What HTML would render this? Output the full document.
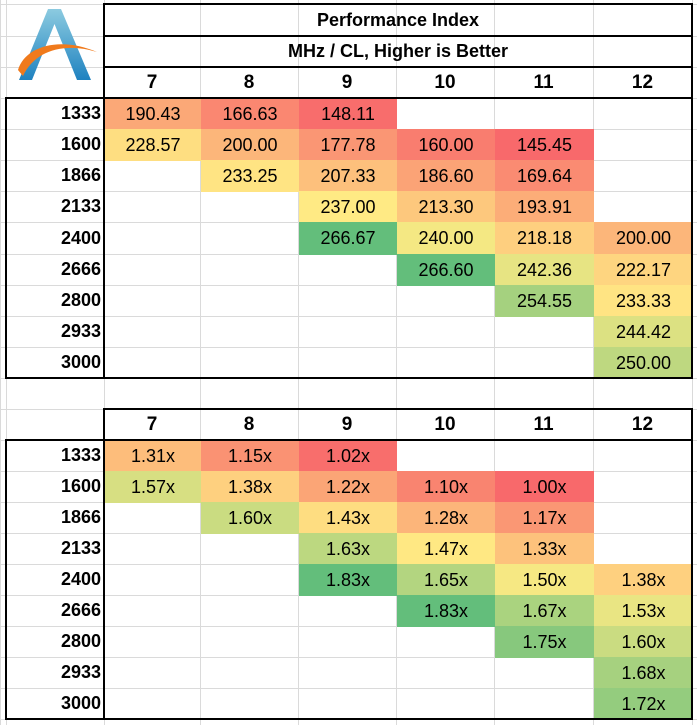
<!DOCTYPE html>
<html><head><meta charset="utf-8"><style>
body{margin:0;background:#fff;width:697px;height:725px;position:relative;overflow:hidden;font-family:"Liberation Sans",sans-serif;}
.c{position:absolute;box-sizing:border-box;display:flex;align-items:center;justify-content:center;font-size:18px;color:#000;}
.l{position:absolute;background:#000;}
.g{position:absolute;background:#dadada;}
</style></head><body>
<div id="root"></div>
<svg style="position:absolute;left:15px;top:6px" width="85" height="76" viewBox="0 0 85 76">
<defs><linearGradient id="bg" x1="0" y1="0" x2="0" y2="1"><stop offset="0" stop-color="#8ccbe0"/><stop offset="1" stop-color="#1f82c0"/></linearGradient></defs>
<path d="M33 3 L46 3 L76 74 L62 74 L39.5 18 L17 74 L4 74 Z" fill="url(#bg)"/>
<path d="M3 64 C10 40 45 30 82 46 C50 36 20 44 8 70 Z" fill="#f07a1c"/>
</svg>
<script>
const X=[6,104,200,298,396,494,593,692];
const cols=[7,8,9,10,11,12];
const mhz=[1333,1600,1866,2133,2400,2666,2800,2933,3000];
const vals=[
[190.43,166.63,148.11,null,null,null],
[228.57,200.00,177.78,160.00,145.45,null],
[null,233.25,207.33,186.60,169.64,null],
[null,null,237.00,213.30,193.91,null],
[null,null,266.67,240.00,218.18,200.00],
[null,null,null,266.60,242.36,222.17],
[null,null,null,null,254.55,233.33],
[null,null,null,null,null,244.42],
[null,null,null,null,null,250.00]];
const rat=[
[1.31,1.15,1.02,null,null,null],
[1.57,1.38,1.22,1.10,1.00,null],
[null,1.60,1.43,1.28,1.17,null],
[null,null,1.63,1.47,1.33,null],
[null,null,1.83,1.65,1.50,1.38],
[null,null,null,1.83,1.67,1.53],
[null,null,null,null,1.75,1.60],
[null,null,null,null,null,1.68],
[null,null,null,null,null,1.72]];
let h='';
function cell(x,y,w,hh,t,st){h+=`<div class="c" style="left:${x}px;top:${y}px;width:${w}px;height:${hh}px;${st||''}">${t}</div>`;}
function L(x,y,w,hh){h+=`<div class="l" style="left:${x}px;top:${y}px;width:${w}px;height:${hh}px"></div>`;}
function G(x,y,w,hh){h+=`<div class="g" style="left:${x}px;top:${y}px;width:${w}px;height:${hh}px"></div>`;}
for(let i=0;i<X.length;i++)G(X[i],0,1,725);
G(0,0,1,725);
const gy=[4,36,67,98];for(let i=1;i<=9;i++)gy.push(Math.round(98+31.1*i));gy.push(409,440);for(let i=1;i<=9;i++)gy.push(440+31*i);
gy.forEach(y=>G(0,y,697,1));
function mix(a,b,t){return a.map((v,i)=>Math.round(v+(b[i]-v)*t));}
const R=[248,105,107],Y=[255,235,132],Gr=[99,190,123];
function color(v,arr,md){const f=arr.flat().filter(x=>x!=null).sort((a,b)=>a-b);const mn=f[0],mx=f[f.length-1];
 let c=v<=md?mix(R,Y,(v-mn)/(md-mn)):mix(Y,Gr,(v-md)/(mx-md));return `rgb(${c})`;}
function table(top,rowH,data,fmt,md){
 for(let r=0;r<9;r++){const y=Math.round(top+rowH*r),y2=Math.round(top+rowH*(r+1));
  cell(6,y,X[1]-6-3,y2-y,mhz[r],'justify-content:flex-end;font-weight:bold;font-size:18px;');
  for(let c=0;c<6;c++){const v=data[r][c];if(v==null)continue;
   cell(X[c+1]+1,y,X[c+2]-X[c+1],y2-y+1,fmt(v),'background:'+color(v,data,md)+';');}
 }}
table(98,31.1,vals,v=>v.toFixed(2),238);
table(440,31,rat,v=>v.toFixed(2)+'x',1.48);
cell(104,4,588,32,'Performance Index','font-weight:bold;font-size:18px;');
cell(104,36,588,31,'MHz / CL, Higher is Better','font-weight:bold;font-size:18px;');
for(let c=0;c<6;c++){cell(X[c+1],67,X[c+2]-X[c+1],31,cols[c],'font-weight:bold;font-size:19px;');cell(X[c+1],409,X[c+2]-X[c+1],31,cols[c],'font-weight:bold;font-size:19px;');}
L(103,3,590,2);L(103,35,590,2);L(103,66,590,2);L(103,3,2,96);L(691,3,2,376);
L(5,97,688,2);L(5,97,2,282);L(103,97,2,282);L(5,377,688,2);
L(103,408,590,2);L(103,408,2,312);L(691,408,2,312);L(5,439,688,2);L(5,439,2,281);L(5,718,688,2);
document.getElementById('root').innerHTML=h;
</script>
</body></html>
